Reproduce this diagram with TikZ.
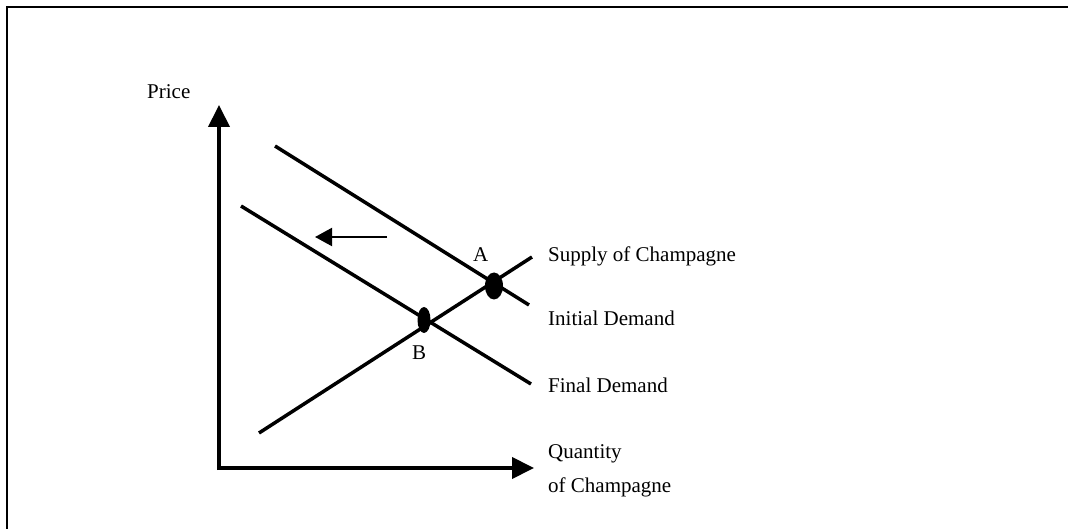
\documentclass[tikz,border=0pt]{standalone}
\usepackage{fontspec}
\setmainfont{Liberation Serif}
\usepackage{tikz}
\usetikzlibrary{arrows.meta,positioning,calc}

\begin{document}
\begin{tikzpicture}[x=1pt,y=-1pt,
  axis/.style={line width=4pt, -{Triangle[length=22pt,width=21pt]}},
  curve/.style={line width=3.5pt},
  shiftarrow/.style={line width=2pt, -{Triangle[length=17pt,width=18pt]}},
  lbl/.style={anchor=base west, inner sep=0pt, font=\fontsize{21pt}{25pt}\selectfont},
  eqpt/.style={fill=black}]
\useasboundingbox (0,0) rectangle (1068,529);
% Frame (top and left edges)
\draw[line width=2.5pt] (7,529) -- (7,7) -- (1068,7);

% Axes
\coordinate (origin) at (219,468);
\coordinate (ytop) at (219,105);
\coordinate (xend) at (534,468);
\draw[axis] ($(origin)+(0,2)$) -- (ytop);
\draw[axis] ($(origin)+(-2,0)$) -- (xend);
\node[lbl] (price) at (147,99) {Price};
\node[lbl] (qty) at (548,458) {Quantity};
\node[lbl] (qtyb) at (548,492) {of Champagne};

% Demand and supply curves
\coordinate (d1a) at (275,146);
\coordinate (d1b) at (529,305);
\coordinate (d2a) at (241,206);
\coordinate (d2b) at (531,384);
\coordinate (sa) at (259,433);
\coordinate (sb) at (532,257);
\draw[curve] (d1a) -- (d1b);
\draw[curve] (d2a) -- (d2b);
\draw[curve] (sa) -- (sb);
\node[lbl] (supply) at (548,262) {Supply of Champagne};
\node[lbl] (initial) at (548,326) {Initial Demand};
\node[lbl] (final) at (548,392) {Final Demand};

% Shift of demand
\coordinate (shiftA) at (387,237);
\coordinate (shiftB) at (315,237);
\draw[shiftarrow] (shiftA) -- (shiftB);

% Equilibrium points
\fill[eqpt] (494,286) ellipse (9 and 13.5);
\fill[eqpt] (424,320) ellipse (6.5 and 13);
\node[lbl] (A) at (473,262) {A};
\node[lbl] (B) at (412,359) {B};
\end{tikzpicture}
\end{document}
